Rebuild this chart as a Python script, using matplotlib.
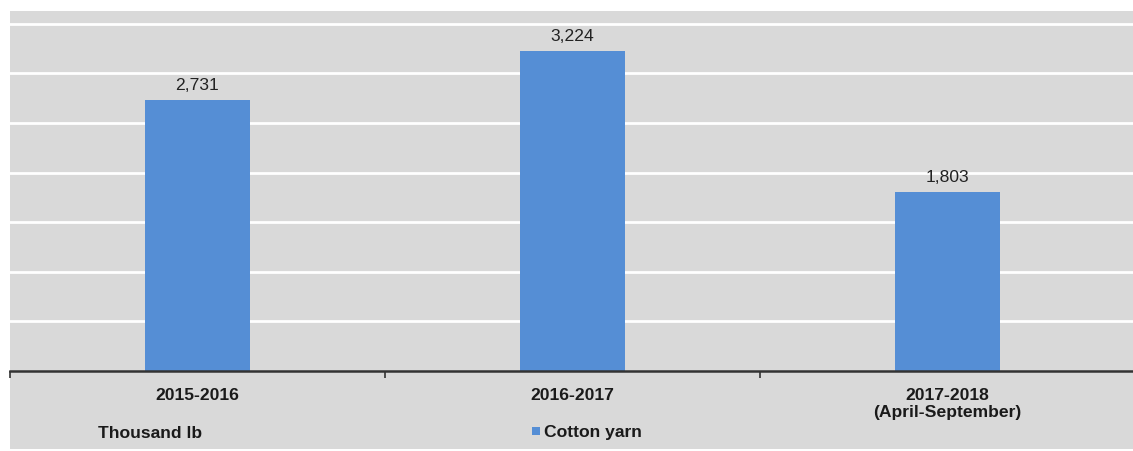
import matplotlib
matplotlib.use("Agg")
import matplotlib.pyplot as plt
from matplotlib.patches import Rectangle

categories = ["2015-2016", "2016-2017", "2017-2018\n(April-September)"]
values = [2731, 3224, 1803]
value_labels = ["2,731", "3,224", "1,803"]
series_name = "Cotton yarn"
unit_label = "Thousand lb"

plt.rcParams['font.family'] = ['Liberation Sans', 'DejaVu Sans']

W, H = 1133, 451
fs = 12.6
fig = plt.figure(figsize=(W / 100, H / 100), dpi=100)
fig.patch.set_facecolor("white")
fig.patches.append(Rectangle((10 / W, 1 - 449 / H), (W - 10) / W, (449 - 11) / H,
                             transform=fig.transFigure, facecolor="#d9d9d9",
                             edgecolor="none", zorder=-10))

ax = fig.add_axes([10 / W, 1 - 371 / H, 1125 / W, (371 - 11) / H])
ax.set_zorder(1)
ax.patch.set_alpha(0)

bar_color = "#558ed5"
x = list(range(len(categories)))
bars = ax.bar(x, values, width=0.28, color=bar_color, zorder=3)
for xi, v, lab in zip(x, values, value_labels):
    ax.text(xi, v + 75, lab, ha="center", va="bottom", fontsize=fs, color="#222222", zorder=4)

ax.set_xlim(-0.5, 2.5)
ax.set_ylim(0, 3630)
ax.set_yticks([500, 1000, 1500, 2000, 2500, 3000, 3500])
ax.yaxis.grid(True, color="white", linewidth=2)
ax.set_axisbelow(True)
ax.tick_params(axis="y", left=False, labelleft=False)

for s in ["top", "right", "left"]:
    ax.spines[s].set_visible(False)
ax.spines["bottom"].set_color("#333333")
ax.spines["bottom"].set_linewidth(1.8)
ax.spines["bottom"].set_zorder(5)

ax.set_xticks([-0.5, 0.5, 1.5, 2.5])
ax.set_xticklabels([])
ax.tick_params(axis="x", length=5, width=1.2, color="#333333", direction="out")
ax.set_xticks(x, minor=True)
ax.set_xticklabels(categories, minor=True, fontsize=fs, fontweight="bold", color="#1a1a1a",
                   linespacing=1.2)
ax.tick_params(axis="x", which="minor", length=0, pad=12)

fig.text(98 / W, 1 - 433 / H, unit_label, fontsize=fs, fontweight="bold",
         color="#1a1a1a", va="center", ha="left", zorder=3)
fig.patches.append(Rectangle((532 / W, 1 - 435 / H), 8 / W, 8 / H, transform=fig.transFigure,
                             facecolor=bar_color, edgecolor="none", zorder=2))
fig.text(544 / W, 1 - 433 / H, series_name, fontsize=fs, fontweight="bold",
         color="#1a1a1a", va="center", ha="left", zorder=3)

fig.savefig("out.png", dpi=100, facecolor="white")
